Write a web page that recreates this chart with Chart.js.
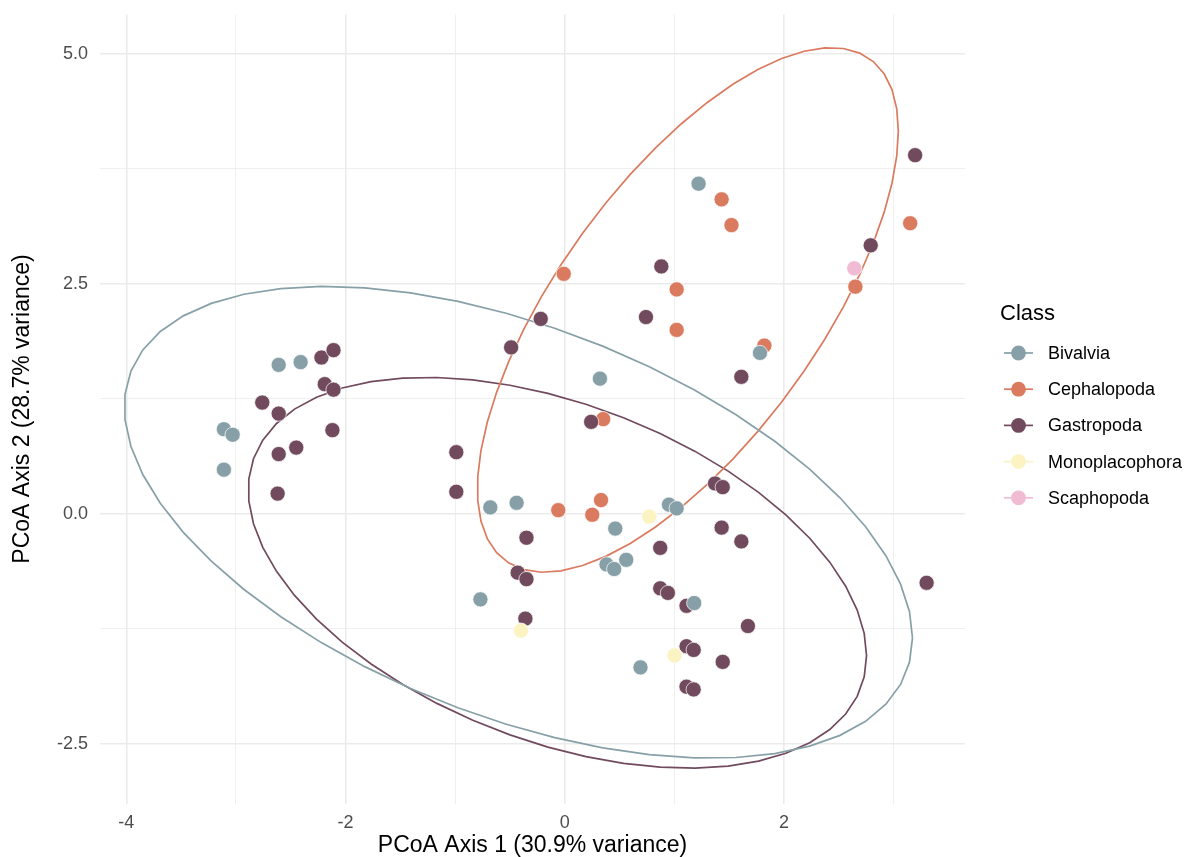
<!DOCTYPE html>
<html lang="en">
<head>
<meta charset="UTF-8">
<title>PCoA by Class</title>
<script src="https://cdn.jsdelivr.net/npm/chart.js"></script>
<style>
  html, body { margin: 0; padding: 0; background: #fff; }
  canvas { display: block; }
</style>
</head>
<body>
<canvas id="chart" width="1188" height="857"></canvas>
<script>
// class names and colours
const classNames = ['Bivalvia', 'Cephalopoda', 'Gastropoda', 'Monoplacophora', 'Scaphopoda'];
const classColors = ['#87A0A8', '#DA7A5E', '#714A5E', '#FBF3C1', '#F2BBD4'];

// PCoA scores, [axis1, axis2]
const bivalvia = [
  [-2.61, 1.62], [-2.41, 1.65], [-3.11, 0.92], [-3.03, 0.86], [-3.11, 0.48],
  [-0.68, 0.07], [-0.44, 0.12], [0.32, 1.47], [1.78, 1.75], [1.22, 3.59],
  [0.95, 0.10], [1.02, 0.06], [0.46, -0.16], [0.38, -0.55], [0.45, -0.60],
  [0.56, -0.50], [-0.77, -0.93], [1.18, -0.97], [0.69, -1.67]
];
const cephalopoda = [
  [-0.01, 2.61], [1.02, 2.44], [1.02, 2.00], [1.43, 3.42], [1.52, 3.14],
  [1.82, 1.83], [3.15, 3.16], [2.65, 2.47], [0.35, 1.03], [-0.06, 0.04],
  [0.25, -0.01], [0.33, 0.15]
];
const gastropoda = [
  [-2.22, 1.70], [-2.11, 1.78], [-2.19, 1.41], [-2.11, 1.35], [-2.76, 1.21],
  [-2.61, 1.09], [-2.12, 0.91], [-2.45, 0.72], [-2.61, 0.65], [-2.62, 0.22],
  [-0.99, 0.67], [-0.99, 0.24], [-0.22, 2.12], [0.74, 2.14], [-0.49, 1.81],
  [1.61, 1.49], [0.24, 1.00], [1.37, 0.33], [1.44, 0.29], [-0.35, -0.26],
  [1.43, -0.15], [1.61, -0.30], [0.87, -0.37], [-0.43, -0.64], [-0.35, -0.71],
  [0.87, -0.81], [0.94, -0.86], [1.11, -1.00], [-0.36, -1.14], [1.67, -1.22],
  [1.11, -1.44], [1.175, -1.48], [1.44, -1.61], [1.11, -1.88], [1.175, -1.91],
  [3.195, 3.90], [2.79, 2.92], [0.88, 2.69], [3.30, -0.75]
];
const monoplacophora = [[0.77, -0.03], [-0.40, -1.27], [1.00, -1.54]];
const scaphopoda = [[2.64, 2.67]];

const groups = [bivalvia, cephalopoda, gastropoda, monoplacophora, scaphopoda];

// 95% ellipses: [centre x, centre y, a, b, c]
// outline: x = cx + a*cos t, y = cy + b*cos t + c*sin t
const bivalviaEllipse = [-0.424, -0.092, 3.595, -1.256, 2.236];
const cephalopodaEllipse = [1.122, 2.217, 1.92, 1.946, 2.086];
const gastropodaEllipse = [-0.068, -0.641, 2.82, -0.902, 1.924];
const ellipses = [bivalviaEllipse, cephalopodaEllipse, gastropodaEllipse, null, null];

// axis ticks
const xTicks = [-4, -3, -2, -1, 0, 1, 2, 3];
const xLabelled = [-4, -2, 0, 2];
const yTicks = [-2.5, -1.25, 0, 1.25, 2.5, 3.75, 5];
const yLabelled = [-2.5, 0, 2.5, 5];

// 51 segments like stat_ellipse
function ellipsePath(e, segments) {
  const path = [];
  for (let i = 0; i <= segments; i++) {
    const t = i * 2 * Math.PI / segments;
    path.push({ x: e[0] + e[2] * Math.cos(t), y: e[1] + e[3] * Math.cos(t) + e[4] * Math.sin(t) });
  }
  return path;
}

const FONT = '"Liberation Sans", Arial, Helvetica, sans-serif';

const datasets = [];
ellipses.forEach((e, i) => {
  if (!e) return;
  datasets.push({
    label: classNames[i] + ' ellipse',
    data: ellipsePath(e, 51),
    showLine: true,
    borderColor: classColors[i],
    borderWidth: 1.7,
    pointRadius: 0,
    fill: false,
    tension: 0,
    order: 10
  });
});
// points (lower order is drawn on top)
const pointOrder = [2, 4, 3, 1, 0];
groups.forEach((g, i) => {
  datasets.push({
    label: classNames[i],
    data: g.map(d => ({ x: d[0], y: d[1] })),
    backgroundColor: classColors[i],
    borderColor: '#ffffff',
    borderWidth: 0.7,
    pointRadius: 7.6,
    pointHoverRadius: 7.6,
    order: pointOrder[i]
  });
});

// legend in ggplot style: line through point
const classLegend = {
  id: 'classLegend',
  afterDraw(chart) {
    const ctx = chart.ctx;
    ctx.save();
    ctx.textAlign = 'left';
    ctx.textBaseline = 'middle';
    ctx.fillStyle = '#000';
    ctx.font = '22px ' + FONT;
    ctx.fillText('Class', 1000, 314);
    ctx.font = '18px ' + FONT;
    classNames.forEach((name, i) => {
      const y = 353 + i * 36.2;
      ctx.strokeStyle = classColors[i];
      ctx.lineWidth = 1.7;
      ctx.beginPath();
      ctx.moveTo(1004, y);
      ctx.lineTo(1033, y);
      ctx.stroke();
      ctx.fillStyle = classColors[i];
      ctx.beginPath();
      ctx.arc(1018.5, y, 7.4, 0, Math.PI * 2);
      ctx.fill();
      ctx.fillStyle = '#000';
      ctx.fillText(name, 1048, y + 1);
    });
    ctx.restore();
  }
};

const gridLine = (ticks) => ({
  color: '#EBEBEB',
  lineWidth: ctx => ctx.tick && ticks.includes(ctx.tick.value) ? 1.6 : 0.8,
  drawTicks: false
});

new Chart(document.getElementById('chart'), {
  type: 'scatter',
  data: { datasets: datasets },
  options: {
    responsive: false,
    animation: false,
    devicePixelRatio: 1,
    layout: { padding: { left: 0, top: 14.5, right: 223, bottom: 0 } },
    plugins: {
      legend: { display: false },
      tooltip: { enabled: false }
    },
    scales: {
      x: {
        type: 'linear',
        min: -4.24,
        max: 3.65,
        afterBuildTicks: axis => { axis.ticks = xTicks.map(v => ({ value: v })); },
        afterFit: axis => { axis.height = 53.5; axis.paddingLeft = 0; axis.paddingRight = 0; },
        grid: gridLine(xLabelled),
        border: { display: false },
        ticks: {
          padding: 9,
          color: '#4D4D4D',
          font: { family: FONT, size: 18 },
          autoSkip: false,
          maxRotation: 0,
          callback: v => xLabelled.includes(v) ? String(v) : ''
        },
        title: {
          display: true,
          text: 'PCoA Axis 1 (30.9% variance)',
          color: '#000',
          font: { family: FONT, size: 23, lineHeight: 1 },
          padding: { top: 0, bottom: 0 }
        }
      },
      y: {
        type: 'linear',
        min: -3.15,
        max: 5.43,
        afterBuildTicks: axis => { axis.ticks = yTicks.map(v => ({ value: v })); },
        afterFit: axis => { axis.width = 100; axis.paddingTop = 0; axis.paddingBottom = 0; },
        grid: gridLine(yLabelled),
        border: { display: false },
        ticks: {
          padding: 12,
          color: '#4D4D4D',
          font: { family: FONT, size: 18 },
          autoSkip: false,
          callback: v => yLabelled.includes(v) ? v.toFixed(1) : ''
        },
        title: {
          display: true,
          text: 'PCoA Axis 2 (28.7% variance)',
          color: '#000',
          font: { family: FONT, size: 23, lineHeight: 1 },
          padding: { top: 11, bottom: 0 }
        }
      }
    }
  },
  plugins: [classLegend]
});
</script>
</body>
</html>
